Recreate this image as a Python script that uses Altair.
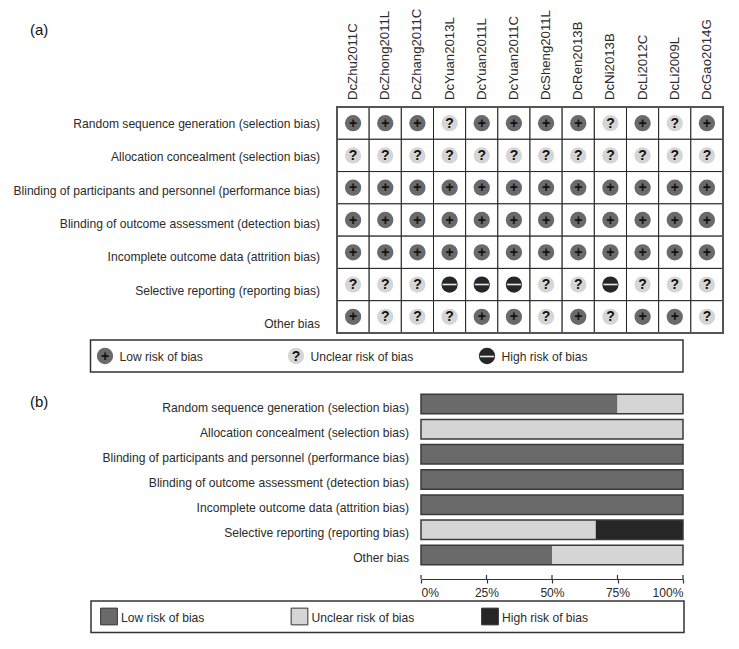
import altair as alt
import pandas as pd

FONT = "Liberation Sans"
LOW, UNCLEAR, HIGH = "#6a6a6a", "#d5d5d5", "#262626"
INK = "#2b2b2b"

studies = ["DcZhu2011C", "DcZhong2011L", "DcZhang2011C", "DcYuan2013L", "DcYuan2011L", "DcYuan2011C",
           "DcSheng2011L", "DcRen2013B", "DcNi2013B", "DcLi2012C", "DcLi2009L", "DcGao2014G"]
domains = ["Random sequence generation (selection bias)",
           "Allocation concealment (selection bias)",
           "Blinding of participants and personnel (performance bias)",
           "Blinding of outcome assessment (detection bias)",
           "Incomplete outcome data (attrition bias)",
           "Selective reporting (reporting bias)",
           "Other bias"]
ratings = [
    list("+++?++++?+?+"),
    list("????????????"),
    list("++++++++++++"),
    list("++++++++++++"),
    list("++++++++++++"),
    list("???---??-???"),
    list("+???++?+?++?"),
]
pct_low = [75, 0, 100, 100, 100, 0, 50]
pct_unclear = [25, 100, 0, 0, 0, 66.7, 50]
pct_high = [0, 0, 0, 0, 0, 33.3, 0]
legend_codes = ["+", "?", "-"]
legend_a = ["Low risk of bias", "Unclear risk of bias", "High risk of bias"]
ticks = [0, 25, 50, 75, 100]

cells = pd.DataFrame([{"study": s, "domain": d, "code": ratings[i][j]}
                      for i, d in enumerate(domains) for j, s in enumerate(studies)])
bars = pd.DataFrame([{"domain": d, "risk": r, "ord": k, "pct": v[i]}
                     for i, d in enumerate(domains)
                     for k, (r, v) in enumerate(zip(legend_a, [pct_low, pct_unclear, pct_high]))])
outline = pd.DataFrame({"domain": domains, "a": [0] * 7, "b": [100] * 7})
col_df = pd.DataFrame({"study": studies})
row_df = pd.DataFrame({"domain": domains})
leg = pd.DataFrame({"label": legend_a, "code": legend_codes})
tick_df = pd.DataFrame({"t": ticks})

fill_scale = alt.Scale(domain=["+", "?", "-"], range=[LOW, UNCLEAR, HIGH])
SYMBOL = "datum.code === '-' ? '—' : datum.code"


def glyphs(data, x, y, r_size):
    disc = alt.Chart(data).mark_circle(size=r_size, opacity=1).encode(
        x=x, y=y, color=alt.Color("code:N", scale=fill_scale, legend=None))
    mark = alt.Chart(data).transform_calculate(sym=SYMBOL).mark_text(
        font=FONT, fontSize=14, fontWeight="bold", baseline="middle", dy=0.5).encode(
        x=x, y=y, text="sym:N",
        color=alt.condition("datum.code === '-'", alt.value("#e8e8e8"), alt.value("#111111")))
    return [disc, mark]


# ---------- panel (a): grid ----------
hx = alt.X("study:N", axis=None, scale=alt.Scale(type="band", domain=studies, range=[329, 715],
                                                 paddingInner=0, paddingOuter=0))
hy = alt.Y("domain:N", axis=None, scale=alt.Scale(type="band", domain=domains, range=[99, 325],
                                                  paddingInner=0, paddingOuter=0))
grid = alt.Chart(cells).mark_rect(fill="white", stroke="#222222", strokeWidth=1).encode(x=hx, y=hy)
col_labels = alt.Chart(col_df).mark_text(
    font=FONT, fontSize=13.2, angle=270, align="left", baseline="middle", color=INK
).encode(x=hx, y=alt.value(92), text="study:N")
heat = alt.layer(grid, *glyphs(cells, hx, hy, 265), col_labels)

grid_border = alt.Chart(row_df.head(1)).mark_rect(fill=None, stroke="#555555", strokeWidth=2).encode(
    x=alt.value(329), x2=alt.value(715), y=alt.value(99), y2=alt.value(325))

row_labels = alt.Chart(row_df).mark_text(
    font=FONT, fontSize=12.1, align="right", baseline="middle", color=INK
).encode(
    x=alt.value(312),
    y=alt.Y("domain:N", axis=None, scale=alt.Scale(type="point", domain=domains, range=[116, 316], padding=0)),
    text="domain:N")

# ---------- panel (a): legend ----------
box_a = alt.Chart(row_df.head(1)).mark_rect(fill="white", stroke="#333333", strokeWidth=1.5).encode(
    x=alt.value(82.5), x2=alt.value(675), y=alt.value(332), y2=alt.value(364))
lax = alt.X("code:N", axis=None, scale=alt.Scale(type="point", domain=legend_codes, range=[97, 479], padding=0))
lay = alt.value(348)
leg_a = alt.layer(
    *glyphs(leg, lax, lay, 265),
    alt.Chart(leg).mark_text(font=FONT, fontSize=12.1, align="left", baseline="middle", dx=14.5, dy=1, color=INK).encode(
        x=lax, y=lay, text="label:N"),
)

# ---------- panel (b): bars ----------
bx = alt.Scale(domain=[0, 100], range=[413, 675], nice=False, zero=False)
by = alt.Y("domain:N", axis=None, scale=alt.Scale(type="band", domain=domains, range=[383.4, 559.6],
                                                  paddingInner=0.226, paddingOuter=0.113))
pct_axis = alt.Axis(values=ticks, orient="bottom", offset=-62, title=None, grid=False,
                    labelExpr="datum.value + '%'", labelFlush=True, labelFont=FONT, labelFontSize=12.1,
                    labelColor=INK, labelPadding=3, tickSize=4, tickColor="#333333", tickWidth=1.2,
                    domainColor="#333333", domainWidth=1.2)
bar_layer = alt.Chart(bars).mark_bar().encode(
    x=alt.X("pct:Q", stack="zero", scale=bx, axis=pct_axis, title=None),
    y=by,
    color=alt.Color("risk:N", legend=None, scale=alt.Scale(domain=legend_a, range=[LOW, UNCLEAR, HIGH])),
    order=alt.Order("ord:Q"),
)
bar_outline = alt.Chart(outline).mark_bar(fill=None, stroke="#3a3a3a", strokeWidth=1.5).encode(
    x=alt.X("a:Q", scale=bx, axis=pct_axis, title=None), x2="b:Q", y=by)
tick_up = alt.Chart(tick_df).mark_rule(color="#333333", strokeWidth=1.2).encode(
    x=alt.X("t:Q", scale=bx, axis=pct_axis, title=None), y=alt.value(567), y2=alt.value(571))
bars_all = alt.layer(bar_layer, bar_outline, tick_up)

bar_labels = alt.Chart(row_df).mark_text(
    font=FONT, fontSize=12.1, align="right", baseline="middle", color=INK
).encode(
    x=alt.value(401),
    y=alt.Y("domain:N", axis=None, scale=alt.Scale(type="point", domain=domains, range=[400, 550], padding=0)),
    text="domain:N")

# ---------- panel (b): legend ----------
box_b = alt.Chart(row_df.head(1)).mark_rect(fill="white", stroke="#333333", strokeWidth=1.5).encode(
    x=alt.value(83), x2=alt.value(676), y=alt.value(593), y2=alt.value(624.5))
sx = alt.X("code:N", axis=None, scale=alt.Scale(type="point", domain=legend_codes, range=[101, 482], padding=0))
sy = alt.value(608.5)
leg_b = alt.layer(
    alt.Chart(leg).mark_point(shape="square", filled=True, size=280, stroke="#333333", strokeWidth=1, opacity=1).encode(
        x=sx, y=sy, fill=alt.Color("code:N", scale=fill_scale, legend=None)),
    alt.Chart(leg).mark_text(font=FONT, fontSize=12.1, align="left", baseline="middle", dx=12, dy=1, color=INK).encode(
        x=sx, y=sy, text="label:N"),
)

tag_df = pd.DataFrame({"tag": ["(a)", "(b)"]})
tags = alt.Chart(tag_df).mark_text(font=FONT, fontSize=15, align="left", baseline="middle", color="#111111").encode(
    x=alt.value(22),
    y=alt.Y("tag:N", axis=None, scale=alt.Scale(type="point", domain=["(a)", "(b)"], range=[22, 394], padding=0)),
    text="tag:N")

chart = alt.layer(
    heat, grid_border, row_labels, box_a, leg_a, bars_all, bar_labels, box_b, leg_b, tags
).resolve_scale(x="independent", y="independent", color="independent", fill="independent").properties(
    width=723, height=633, padding=0, autosize=alt.AutoSizeParams(type="none")
).configure_view(stroke=None)

chart.save("out.html", embed_options={"renderer": "svg", "actions": False})
